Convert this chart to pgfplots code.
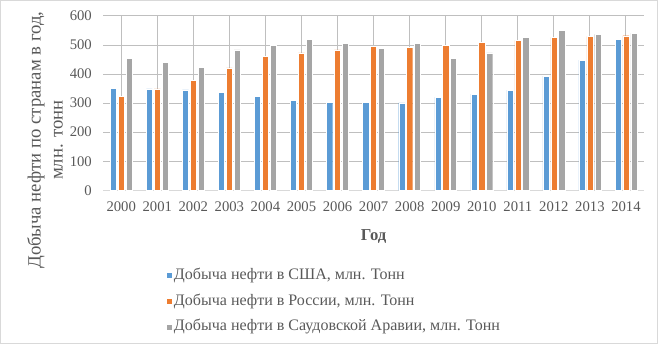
\documentclass[border=0pt]{standalone}
\usepackage{pgfplots}
\pgfplotsset{compat=1.18}
\usepackage{fontspec}
\setmainfont{Liberation Serif}
\definecolor{cUSA}{HTML}{5B9BD5}
\definecolor{cRU}{HTML}{ED7D31}
\definecolor{cSA}{HTML}{A5A5A5}
\definecolor{grid}{HTML}{D9D9D9}
\definecolor{txt}{HTML}{595959}
\begin{document}
\begin{tikzpicture}
\begin{axis}[
  at={(0,0)}, anchor=south west,
  scale only axis, width=405pt, height=130.5pt,
  xmin=-0.5, xmax=14.5, ymin=0, ymax=600,
  ybar=1.3pt, bar width=4.6pt,
  xtick={0,...,14},
  xticklabels={2000,2001,2002,2003,2004,2005,2006,2007,2008,2009,2010,2011,2012,2013,2014},
  ytick={0,100,...,600},
  ymajorgrids, grid style={grid, line width=0.75pt},
  axis line style={draw=none},
  axis x line*=bottom, axis y line*=left,
  x axis line style={draw=grid, line width=0.75pt},
  major tick length=0pt,
  tick label style={font=\fontsize{11}{13}\selectfont, text=txt},
  /pgf/number format/assume math mode=true,
  xticklabel style={yshift=-5pt},
  yticklabel style={xshift=-5pt},
  xlabel={\textbf{Год}},
  xlabel style={font=\fontsize{12.5}{14}\selectfont, text=txt, at={(axis description cs:0.5,0)}, anchor=center, yshift=-34.5pt},
  ylabel={Добыча нефти по странам в год,\\млн. тонн},
  ylabel style={font=\fontsize{14}{16.5}\selectfont, text=txt, align=center, at={(axis description cs:-0.1074,0.287)}, anchor=center},
  legend cell align=left,
  legend style={draw=none, fill=none, at={(axis description cs:0.1148,-0.448)}, anchor=north west,
    font=\fontsize{12}{14}\selectfont, text=txt,
    nodes={inner sep=0pt, text height=8pt, text depth=2.5pt},
    row sep=8.8pt, inner sep=0pt},
  legend image code/.code={\fill[#1] (0pt,-2.25pt) rectangle (4.5pt,2.25pt);},
  clip=false,
]
\addplot[fill=cUSA, draw=white, line width=0.3pt] coordinates {(0,352) (1,349) (2,346) (3,337) (4,323) (5,309) (6,303) (7,303) (8,301) (9,321) (10,331) (11,345) (12,393) (13,448) (14,519)};
\addplot[fill=cRU, draw=white, line width=0.3pt] coordinates {(0,323) (1,349) (2,379) (3,421) (4,462) (5,473) (6,483) (7,495) (8,493) (9,498) (10,510) (11,516) (12,526) (13,530) (14,532)};
\addplot[fill=cSA, draw=white, line width=0.3pt] coordinates {(0,455) (1,440) (2,424) (3,483) (4,498) (5,519) (6,507) (7,488) (8,507) (9,455) (10,473) (11,526) (12,550) (13,537) (14,541)};
\legend{{\hspace{1.5pt}Добыча нефти в США, млн. Тонн}, {\hspace{1.5pt}Добыча нефти в России, млн. Тонн}, {\hspace{1.5pt}Добыча нефти в Саудовской Аравии, млн. Тонн}}
\end{axis}
\draw[grid, line width=0.75pt] (-76.9pt,-114.4pt) rectangle (415.1pt,142.1pt);
\end{tikzpicture}
\end{document}
